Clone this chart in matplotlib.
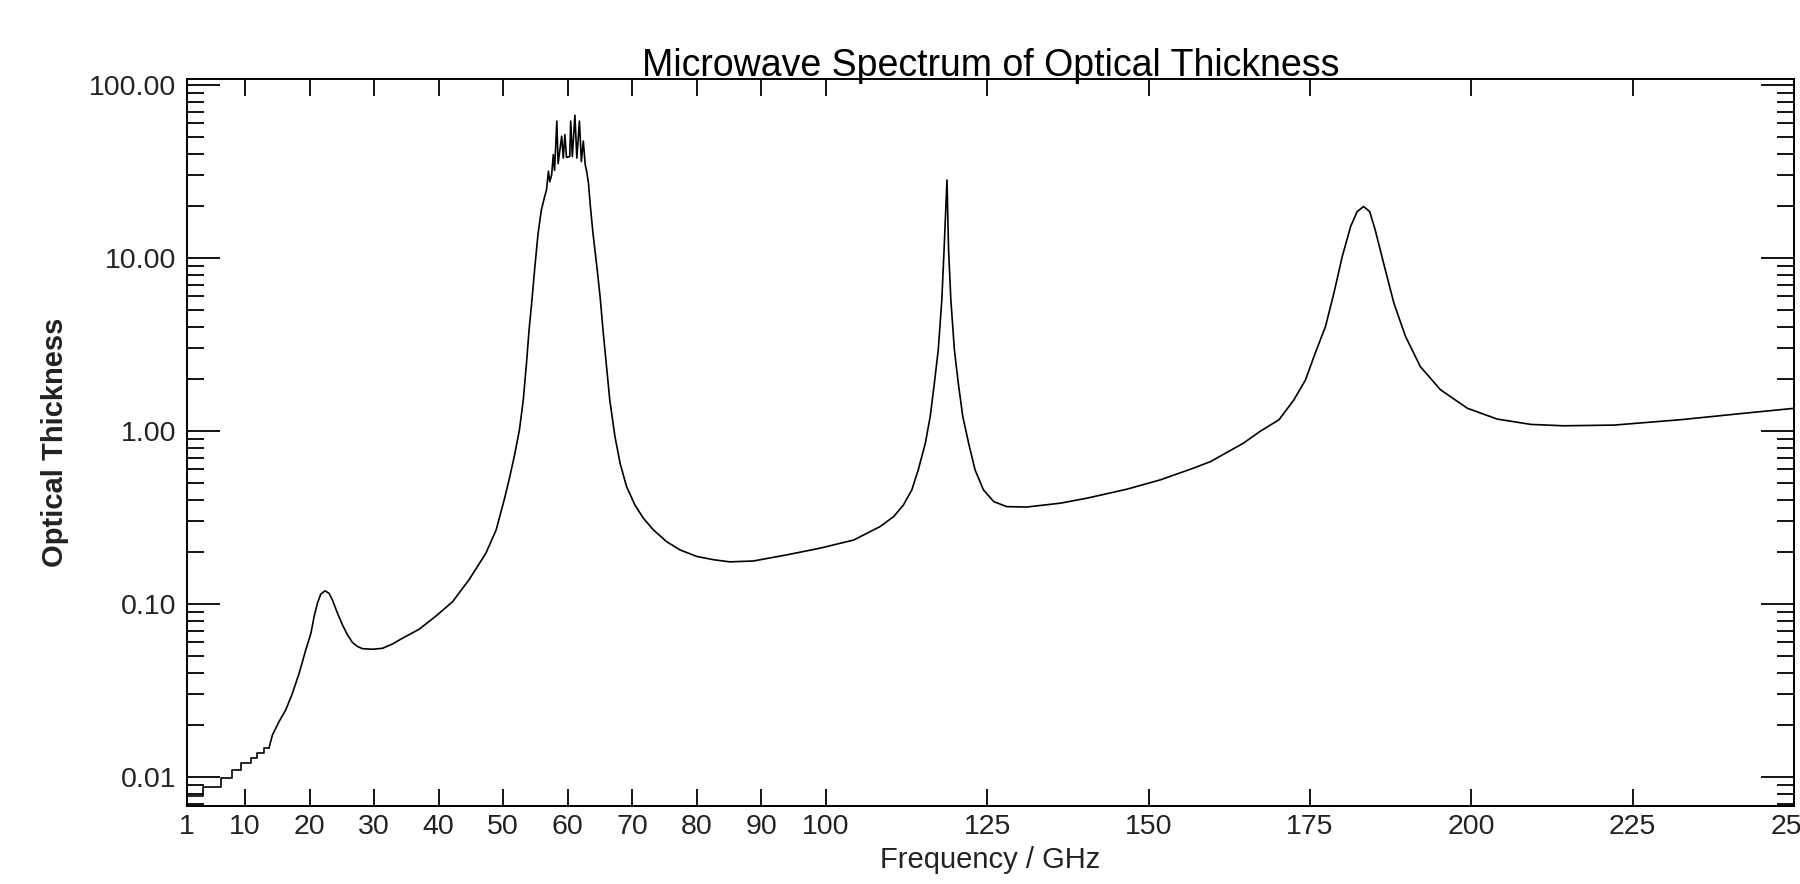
import matplotlib
matplotlib.use("Agg")
import matplotlib.pyplot as plt
from matplotlib.ticker import FixedLocator, LogLocator, FormatStrFormatter, NullFormatter, NullLocator

plt.rcParams['font.family'] = ['Liberation Sans', 'DejaVu Sans']

# low frequency end, drawn as a staircase
step_freq = [1.0, 1.0, 3.4, 6.2, 8.0, 9.3, 10.9, 11.9, 12.9, 13.7]
step_tau = [0.0060, 0.0078, 0.0088, 0.0098, 0.0110, 0.0120, 0.0128, 0.0137,
            0.0147, 0.0147]

# rest of the spectrum (GHz, optical thickness)
freq = [13.7, 14.24, 15.26, 16.3, 17.34, 18.37, 19.4, 20.2, 20.69, 21.21, 21.73,
        22.4, 23.02, 23.54, 24.32, 25.09, 25.87, 26.64, 27.42, 28.19, 29.74,
        31.3, 32.84, 34.4, 36.97, 39.56, 42.15, 44.7, 47.3, 48.9, 50.15, 50.9,
        51.7, 52.5, 53.1, 53.6, 54.0, 54.4, 54.9, 55.4, 55.9, 56.4, 56.7,
        57.0, 57.2, 57.5, 57.75, 57.95, 58.3, 58.5, 59.05, 59.3, 59.55, 59.8,
        60.3, 60.45, 60.7, 61.1, 61.4, 61.8, 62.1, 62.4, 62.7, 62.9, 63.2,
        63.5, 63.9, 64.5, 65.0, 65.5, 66.0, 66.5, 67.3, 68.1, 69.1, 70.4, 71.7,
        73.25, 75.3, 77.4, 80.0, 82.6, 85.1, 88.75, 93.9, 99.1, 104.3, 108.4,
        110.5, 112.0, 113.3, 114.3, 115.4, 116.15, 116.8, 117.4, 117.95, 118.3,
        118.75, 119.0, 119.35, 119.9, 120.5, 121.2, 122.1, 123.1, 124.4, 126.0,
        128.0, 131.1, 136.3, 140.4, 146.6, 151.8, 157.0, 159.6, 164.7, 167.2,
        170.2, 172.5, 174.3, 175.8, 177.4, 178.7, 180.0, 181.3, 182.3, 183.3,
        184.25, 185.1, 186.4, 188.0, 189.8, 192.1, 195.2, 199.4, 204.0, 209.2,
        214.3, 222.1, 232.4, 242.8, 250.0]
tau = [0.0147, 0.0175, 0.0209, 0.0244, 0.0305, 0.0397, 0.0542, 0.0677, 0.0845,
       0.101, 0.114, 0.119, 0.115, 0.105, 0.0883, 0.0756, 0.0662, 0.0598,
       0.0567, 0.0551, 0.0547, 0.0554, 0.0587, 0.0634, 0.0714, 0.085, 0.103,
       0.138, 0.196, 0.268, 0.40, 0.521, 0.71, 1.01, 1.51, 2.46, 3.84, 5.47,
       8.9, 13.9, 18.9, 22.5, 24.7, 31.7, 27.5, 30.2, 39.5, 32.0, 61.7, 35.0,
       50.5, 37.7, 51.6, 38.0, 38.5, 61.7, 38.5, 66.8, 37.7, 61.7, 36.0, 47.3,
       34.5, 32.0, 27.0, 19.8, 13.9, 8.9, 5.98, 3.67, 2.35, 1.51, 0.93, 0.65,
       0.477, 0.373, 0.313, 0.268, 0.229, 0.205, 0.188, 0.180, 0.175, 0.177,
       0.192, 0.21, 0.234, 0.28, 0.32, 0.373, 0.456, 0.595, 0.85, 1.21, 1.89,
       2.94, 5.72, 11.1, 28.2, 11.1, 5.72, 2.94, 1.89, 1.21, 0.85, 0.595,
       0.456, 0.39, 0.365, 0.363, 0.382, 0.408, 0.46, 0.521, 0.61, 0.665,
       0.85, 0.99, 1.16, 1.51, 1.97, 2.81, 4.01, 6.25, 10.2, 15.2, 18.5, 19.8,
       18.5, 14.5, 9.32, 5.47, 3.51, 2.35, 1.73, 1.35, 1.17, 1.09, 1.07, 1.08,
       1.16, 1.27, 1.35]

xticks = [1, 10, 20, 30, 40, 50, 60, 70, 80, 90, 100, 125, 150, 175, 200, 225, 250]
yticks = [0.01, 0.1, 1, 10, 100]

fig = plt.figure(figsize=(18, 8.84), dpi=100)
ax = fig.add_axes([0.1039, 0.0882, 0.8928, 0.8224])

ax.step(step_freq, step_tau, where='post', color='black', lw=1.2)
ax.plot(freq, tau, color='black', lw=1.2)

ax.set_yscale('log')
ax.set_xlim(1, 250)
ax.set_ylim(0.00679, 108)

ax.xaxis.set_major_locator(FixedLocator(xticks))
ax.xaxis.set_minor_locator(NullLocator())
ax.set_xticklabels([str(t) for t in xticks])
ax.yaxis.set_major_locator(FixedLocator(yticks))
ax.yaxis.set_major_formatter(FormatStrFormatter('%.2f'))
ax.yaxis.set_minor_locator(LogLocator(base=10, subs=range(2, 10), numticks=20))
ax.yaxis.set_minor_formatter(NullFormatter())

ax.tick_params(axis='x', which='major', direction='in', length=12, width=1.3,
               top=True, pad=6, labelsize=20.5, labelcolor='#222222')
ax.tick_params(axis='y', which='major', direction='in', length=24, width=1.3,
               right=True, pad=8, labelsize=20.5, labelcolor='#222222')
ax.tick_params(axis='y', which='minor', direction='in', length=12, width=1.3,
               right=True)
for sp in ax.spines.values():
    sp.set_linewidth(1.4)

ax.set_title('Microwave Spectrum of Optical Thickness', fontsize=27, pad=2)
ax.set_xlabel('Frequency / GHz', fontsize=21, labelpad=4, color='#222222')
ax.set_ylabel('Optical Thickness', fontsize=21, fontweight='bold', labelpad=14,
              color='#222222')

fig.savefig('out.png', dpi=100)
